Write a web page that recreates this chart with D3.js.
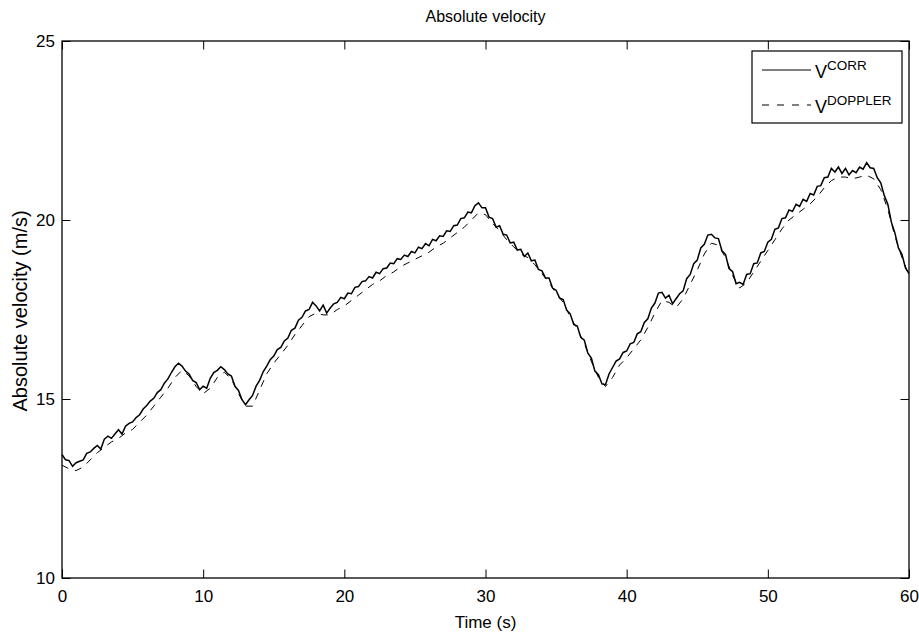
<!DOCTYPE html>
<html>
<head>
<meta charset="utf-8">
<title>Absolute velocity</title>
<script src="https://d3js.org/d3.v7.min.js"></script>
<style>
  body { margin: 0; background: #fff; }
  svg text { font-family: "Liberation Sans", Arial, Helvetica, sans-serif; fill: #000; }
</style>
</head>
<body>
<svg id="canvas" width="919" height="636"></svg>
<script>
  // sampling steps (s)
  const corrStep = 0.25;
  const dopplerStep = 0.5;

  // V_CORR, one value every 0.25 s from 0 to 60 s
  const corrValues = [
    13.45,13.30,13.28,13.12,13.22,13.26,13.30,13.48,13.52,13.62,13.70,13.60,13.88,13.96,13.90,14.02,
    14.14,14.02,14.24,14.32,14.36,14.48,14.56,14.72,14.82,14.94,15.02,15.18,15.26,15.44,15.56,15.74,
    15.90,16.00,15.92,15.78,15.70,15.52,15.46,15.26,15.36,15.30,15.58,15.74,15.80,15.90,15.82,15.70,
    15.64,15.36,15.24,14.98,14.84,14.98,15.10,15.36,15.52,15.76,15.92,16.10,16.20,16.38,16.44,16.62,
    16.70,16.92,16.98,17.20,17.28,17.46,17.50,17.70,17.60,17.46,17.62,17.40,17.54,17.66,17.70,17.84,
    17.80,17.96,17.94,18.12,18.14,18.28,18.30,18.42,18.38,18.54,18.50,18.64,18.66,18.80,18.78,18.92,
    18.90,19.02,18.98,19.12,19.08,19.24,19.20,19.34,19.28,19.46,19.42,19.56,19.54,19.70,19.68,19.84,
    19.86,20.04,20.06,20.22,20.20,20.40,20.48,20.34,20.34,20.08,20.04,19.80,19.84,19.60,19.58,19.36,
    19.38,19.16,19.18,18.98,19.08,18.86,18.88,18.62,18.58,18.38,18.38,18.10,18.04,17.82,17.78,17.48,
    17.38,17.08,17.04,16.72,16.64,16.28,16.14,15.78,15.68,15.42,15.40,15.70,15.88,16.06,16.12,16.30,
    16.34,16.54,16.58,16.82,16.88,17.14,17.24,17.54,17.68,17.96,17.98,17.82,17.90,17.66,17.80,17.94,
    18.02,18.36,18.48,18.78,18.88,19.22,19.32,19.58,19.60,19.50,19.48,19.14,19.04,18.64,18.56,18.22,
    18.26,18.20,18.48,18.50,18.78,18.80,19.08,19.12,19.38,19.46,19.74,19.78,20.04,20.06,20.28,20.24,
    20.44,20.38,20.58,20.52,20.74,20.70,20.94,20.96,21.18,21.20,21.44,21.34,21.48,21.30,21.44,21.26,
    21.38,21.32,21.48,21.42,21.60,21.46,21.44,21.18,21.04,20.68,20.44,19.94,19.64,19.22,19.04,18.66,
    18.50
  ];

  // V_DOPPLER, one value every 0.5 s from 0 to 60 s
  const dopplerValues = [
    13.15,13.05,13.00,13.10,13.30,13.50,13.65,13.80,13.90,14.05,14.15,14.35,14.55,14.80,15.05,15.30,
    15.60,15.80,15.65,15.35,15.15,15.30,15.60,15.75,15.55,15.15,14.80,14.80,15.25,15.70,16.00,16.25,
    16.50,16.80,17.05,17.30,17.40,17.35,17.35,17.50,17.60,17.75,17.90,18.05,18.20,18.30,18.45,18.55,
    18.70,18.80,18.90,19.00,19.10,19.25,19.35,19.50,19.65,19.80,20.00,20.20,20.15,19.90,19.70,19.45,
    19.25,19.05,18.95,18.75,18.50,18.25,17.95,17.70,17.30,16.95,16.55,16.05,15.60,15.35,15.60,15.95,
    16.15,16.40,16.65,17.00,17.40,17.75,17.70,17.55,17.80,18.20,18.60,19.05,19.35,19.30,18.95,18.45,
    18.10,18.25,18.55,18.85,19.15,19.45,19.75,20.00,20.15,20.30,20.45,20.65,20.90,21.10,21.20,21.20,
    21.15,21.20,21.25,21.15,20.85,20.30,19.55,18.95,18.45
  ];

  const xTicks = [0, 10, 20, 30, 40, 50, 60];
  const yTicks = [10, 15, 20, 25];
  const legendLabels = [{base: 'V', sup: 'CORR'}, {base: 'V', sup: 'DOPPLER'}];

  const pLeft = 62, pRight = 909, pTop = 41, pBottom = 578;
  const tickLen = 8.5;

  const svg = d3.select('#canvas');

  const x = d3.scaleLinear().domain([0, 60]).range([pLeft, pRight]);
  const y = d3.scaleLinear().domain([10, 25]).range([pBottom, pTop]);

  const corrData = corrValues.map((v, i) => [i * corrStep, v]);
  const dopplerData = dopplerValues.map((v, i) => [i * dopplerStep, v]);

  const line = d3.line()
    .x(d => x(d[0]))
    .y(d => y(d[1]));

  // data lines
  svg.append('path')
    .datum(dopplerData)
    .attr('d', line)
    .attr('fill', 'none')
    .attr('stroke', 'black')
    .attr('stroke-width', 1)
    .attr('stroke-dasharray', '7,7');
  svg.append('path')
    .datum(corrData)
    .attr('d', line)
    .attr('fill', 'none')
    .attr('stroke', 'black')
    .attr('stroke-width', 1.5);

  // axes: bottom/left with labels, top/right ticks only, all inward
  svg.append('g')
    .attr('transform', 'translate(0,' + pBottom + ')')
    .call(d3.axisBottom(x).tickValues(xTicks).tickSize(-tickLen).tickPadding(12))
    .call(g => g.selectAll('text').attr('font-size', 17));
  svg.append('g')
    .attr('transform', 'translate(0,' + pTop + ')')
    .call(d3.axisTop(x).tickValues(xTicks).tickSize(-tickLen).tickFormat(''));
  svg.append('g')
    .attr('transform', 'translate(' + pLeft + ',0)')
    .call(d3.axisLeft(y).tickValues(yTicks).tickSize(-tickLen).tickPadding(7))
    .call(g => g.selectAll('text').attr('font-size', 17));
  svg.append('g')
    .attr('transform', 'translate(' + pRight + ',0)')
    .call(d3.axisRight(y).tickValues(yTicks).tickSize(-tickLen).tickFormat(''));

  svg.selectAll('.domain').remove();
  svg.selectAll('.tick line').attr('stroke', 'black');
  svg.selectAll('.tick text').attr('font-family', '"Liberation Sans", Arial, sans-serif');

  // frame
  svg.append('rect')
    .attr('x', pLeft).attr('y', pTop)
    .attr('width', pRight - pLeft).attr('height', pBottom - pTop)
    .attr('fill', 'none')
    .attr('stroke', 'black')
    .attr('stroke-width', 1.3);

  // titles
  svg.append('text')
    .attr('x', (pLeft + pRight) / 2).attr('y', 22)
    .attr('text-anchor', 'middle')
    .attr('font-size', 16)
    .text('Absolute velocity');
  svg.append('text')
    .attr('x', (pLeft + pRight) / 2).attr('y', 628)
    .attr('text-anchor', 'middle')
    .attr('font-size', 17)
    .text('Time (s)');
  svg.append('text')
    .attr('transform', 'translate(27,311) rotate(-90)')
    .attr('text-anchor', 'middle')
    .attr('font-size', 20)
    .text('Absolute velocity (m/s)');

  // legend
  const lg = svg.append('g');
  lg.append('rect')
    .attr('x', 752).attr('y', 51)
    .attr('width', 150).attr('height', 72)
    .attr('fill', 'white')
    .attr('stroke', 'black')
    .attr('stroke-width', 1.2);
  legendLabels.forEach(function(l, i) {
    const ly = 70 + i * 35;
    lg.append('line')
      .attr('x1', 762).attr('x2', 811)
      .attr('y1', ly).attr('y2', ly)
      .attr('stroke', 'black')
      .attr('stroke-width', 1)
      .attr('stroke-dasharray', i == 0 ? null : '7,8');
    const t = lg.append('text')
      .attr('x', 815).attr('y', ly + 8)
      .attr('font-size', 18);
    t.append('tspan').text(l.base);
    t.append('tspan')
      .attr('dy', -8)
      .attr('font-size', 13.5)
      .text(l.sup);
  });
</script>
</body>
</html>
